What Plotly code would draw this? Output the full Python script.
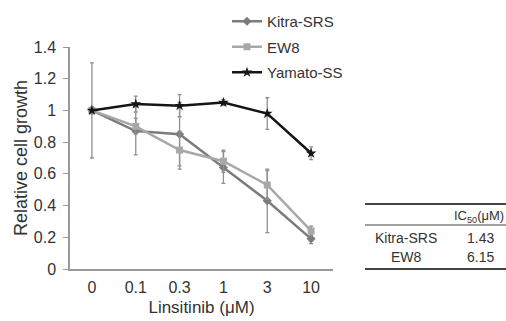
import plotly.graph_objects as go

doses = ["0", "0.1", "0.3", "1", "3", "10"]
kitra = [1.0, 0.87, 0.85, 0.64, 0.43, 0.19]
kitra_err = [0.30, 0.15, 0.20, 0.10, 0.20, 0.03]
ew8 = [1.0, 0.90, 0.75, 0.68, 0.53, 0.24]
ew8_err = [0.02, 0.05, 0.12, 0.07, 0.09, 0.03]
yamato = [1.0, 1.04, 1.03, 1.05, 0.98, 0.73]
yamato_err = [0.02, 0.05, 0.07, 0.02, 0.10, 0.04]

table_rows = ["Kitra-SRS", "EW8"]
table_ic50 = ["1.43", "6.15"]

FONT = "Liberation Sans, Arial, sans-serif"

fig = go.Figure()
series = [
    ("Kitra-SRS", kitra, kitra_err, "#7c7c7c", "diamond", 7),
    ("EW8", ew8, ew8_err, "#a8a8a8", "square", 7),
    ("Yamato-SS", yamato, yamato_err, "#151515", "star", 8),
]
for i, (name, y, err, col, sym, ms) in enumerate(series):
    fig.add_trace(go.Scatter(
        x=doses, y=y, name=name, mode="lines+markers",
        line=dict(color=col, width=2.5),
        marker=dict(symbol=sym, size=ms, color=col),
        error_y=dict(type="data", array=err, visible=True, color="#909090", thickness=1.3, width=2),
        legendgroup=name,
    ))

fig.update_layout(
    width=506, height=321,
    margin=dict(l=70, r=173, t=47, b=52, autoexpand=False),
    paper_bgcolor="white", plot_bgcolor="white",
    font=dict(family=FONT, size=15, color="#333333"),
    showlegend=True,
    legend=dict(x=(227 - 70) / 263, xanchor="left", y=1.0 + 42 / 222, yanchor="top",
                font=dict(size=15, color="#333333"), itemwidth=30,
                tracegroupgap=3, bgcolor="rgba(0,0,0,0)"),
    xaxis=dict(type="category", range=[-0.5, 5.5], showline=True, linecolor="#999999",
               linewidth=1.5, ticks="outside", ticklen=3, tickcolor="rgba(0,0,0,0)",
               showgrid=False, zeroline=False,
               tickfont=dict(size=16),
               title=dict(text="Linsitinib (μM)", font=dict(size=17), standoff=6)),
    yaxis=dict(range=[0, 1.4], dtick=0.2, showline=True, linecolor="#999999",
               linewidth=1.5, ticks="outside", ticklen=5, tickcolor="#999999",
               ticklabelstandoff=4,
               showgrid=False, zeroline=False, tickfont=dict(size=16),
               title=dict(text="Relative cell growth", font=dict(size=18), standoff=1)),
)

# IC50 table (positions in pixels, converted to paper coords of the plot area)
x0, x1 = 365, 506
for yy, w in [(204, 2), (225, 1), (269, 2)]:
    fig.add_shape(type="line", xref="paper", yref="paper",
                  x0=(x0 - 70) / 263, x1=(x1 - 70) / 263,
                  y0=(269 - yy) / 222, y1=(269 - yy) / 222,
                  line=dict(color="#444444", width=w))

def ann(text, x, y, size=14):
    fig.add_annotation(text=text, xref="paper", yref="paper",
                       x=(x - 70) / 263, y=(269 - y) / 222,
                       showarrow=False, xanchor="center", yanchor="middle",
                       font=dict(family=FONT, size=size, color="#333333"))

ann("IC<sub>50</sub>(μM)", 479, 216, size=13)
for i, (r, v) in enumerate(zip(table_rows, table_ic50)):
    ann(r, 406, 238 + 19 * i)
    ann(v, 480, 238 + 19 * i)

fig.write_html("out.html", config={"displayModeBar": False},
               post_script="document.body.style.margin='0';")
